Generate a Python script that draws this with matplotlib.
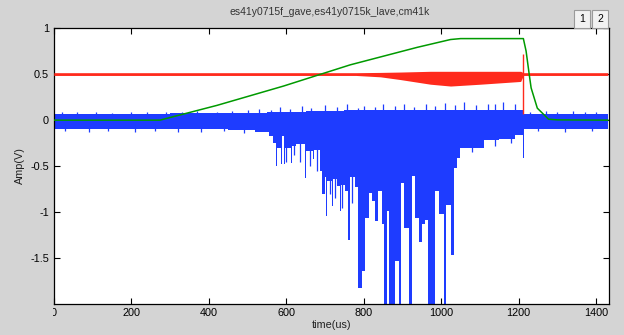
import numpy as np
import matplotlib
matplotlib.use("Agg")
import matplotlib.pyplot as plt
from matplotlib.patches import Rectangle
from matplotlib.transforms import Bbox

plt.rcParams['font.family'] = ['Liberation Sans', 'DejaVu Sans']

# ---- traces (time in us, amplitude in V) ----
# gate envelope (green)
gate_t = [0, 274, 421, 593, 765, 938, 1024, 1050, 1212, 1219, 1227, 1232, 1248, 1277, 1300, 1430]
gate_v = [0, 0, 0.16, 0.37, 0.60, 0.79, 0.875, 0.885, 0.885, 0.75, 0.50, 0.35, 0.13, 0.01, 0.003, 0.0]

# reference trace (red): band edges
ref_t = [0, 780, 843, 895, 972, 1024, 1101, 1205, 1212, 1430]
ref_lo = [0.485, 0.485, 0.47, 0.44, 0.39, 0.37, 0.39, 0.42, 0.485, 0.485]
ref_hi = [0.515, 0.515, 0.518, 0.522, 0.53, 0.53, 0.53, 0.53, 0.515, 0.515]
ref_step_t = 1212
ref_step_lo = 0.07
ref_step_hi = 0.72

# acoustic trace (blue): lower envelope, constant from each time to the next
sig_lo_t = [0, 450, 520, 555, 565, 574, 577, 586, 589, 595, 598, 612, 615, 626,
            648, 651, 668, 671, 686, 692, 700, 703, 706, 718, 721, 730, 738, 741, 752,
            760, 764, 778, 786, 795, 804, 813, 821, 830, 838, 847, 853, 860, 864,
            881, 890, 896, 903, 916, 924, 933, 942, 950, 959, 967, 985, 993, 1006,
            1013, 1024, 1032, 1041, 1049, 1110, 1150, 1190, 1210, 1214, 1430]
sig_lo_v = [-0.10, -0.11, -0.13, -0.17, -0.25, -0.50, -0.30, -0.48, -0.17, -0.48, -0.30, -0.46, -0.28, -0.26,
            -0.63, -0.33, -0.42, -0.32, -0.55, -0.80, -0.62, -1.04, -0.66, -0.93, -0.64, -0.72, -0.99, -0.70, -0.77,
            -1.30, -0.62, -0.73, -1.82, -1.64, -1.06, -0.79, -0.88, -1.10, -0.77, -1.13, -2.05, -0.99, -2.05,
            -1.53, -2.05, -0.68, -1.17, -2.05, -0.61, -1.06, -1.32, -1.13, -1.08, -2.05, -0.77, -1.02, -2.05,
            -0.92, -1.46, -0.52, -0.41, -0.30, -0.22, -0.20, -0.16, -0.41, -0.10, -0.10]

# upper envelope
sig_hi_t = [0, 300, 450, 550, 650, 750, 1000, 1212, 1430]
sig_hi_v = [0.07, 0.075, 0.08, 0.09, 0.10, 0.11, 0.11, 0.065, 0.065]

# isolated positive peaks
up_peak_t = [20, 60, 110, 150, 200, 240, 290, 330, 370, 420, 460, 500, 530, 560, 585, 610,
             640, 665, 700, 730, 757, 785, 800, 830, 850, 880, 905, 930, 960, 985, 1010,
             1035, 1060, 1090, 1120, 1140, 1160, 1190, 1230, 1270, 1300, 1340, 1370, 1400]
up_peak_v = [0.09, 0.085, 0.09, 0.08, 0.085, 0.09, 0.085, 0.09, 0.10, 0.09, 0.10, 0.11, 0.12, 0.11, 0.14, 0.12,
             0.15, 0.13, 0.16, 0.14, 0.17, 0.13, 0.15, 0.14, 0.17, 0.15, 0.18, 0.14, 0.17, 0.15, 0.19,
             0.16, 0.20, 0.16, 0.18, 0.17, 0.20, 0.17, 0.09, 0.10, 0.09, 0.10, 0.085, 0.09]

# isolated negative peaks
dn_peak_t = [30, 90, 140, 210, 260, 320, 380, 440, 490, 600, 620, 635, 660, 680, 712, 726,
             745, 770, 1080, 1140, 1180, 1250, 1320, 1390]
dn_peak_v = [-0.12, -0.13, -0.12, -0.13, -0.12, -0.13, -0.13, -0.12, -0.14, -0.45, -0.38, -0.45,
             -0.50, -0.55, -0.80, -0.85, -0.95, -0.90, -0.35, -0.28, -0.25, -0.12, -0.13, -0.12]

x_ticks = [0, 200, 400, 600, 800, 1000, 1200, 1400]
y_ticks = [-1.5, -1, -0.5, 0, 0.5, 1]
y_tick_labels = ['-1.5', '-1', '-0.5', '0', '0.5', '1']

BLUE = '#1e3cff'
RED = '#ff2a1c'
GREEN = '#009a00'
BG = '#d4d4d4'

W, H = 624, 335
fig = plt.figure(figsize=(W / 100, H / 100), dpi=100, facecolor=BG)
ax = fig.add_axes([53.8 / W, 1 - 303.5 / H, (608.6 - 53.8) / W, (303.5 - 28) / H])
ax.set_facecolor('white')


def step_eval(t_src, v_src, t):
    idx = np.searchsorted(np.asarray(t_src), t, side='right') - 1
    return np.asarray(v_src)[np.clip(idx, 0, len(v_src) - 1)]


grid = np.union1d(sig_lo_t, sig_hi_t)
lo = step_eval(sig_lo_t, sig_lo_v, grid)
hi = step_eval(sig_hi_t, sig_hi_v, grid)
ax.fill_between(grid, lo, hi, step='post', color=BLUE, linewidth=0, zorder=2)
ax.vlines(up_peak_t, 0, up_peak_v, color=BLUE, linewidth=0.9, zorder=2)
ax.vlines(dn_peak_t, dn_peak_v, 0, color=BLUE, linewidth=0.9, zorder=2)

ax.fill_between(ref_t, ref_lo, ref_hi, color=RED, linewidth=0, zorder=3)
ax.vlines([ref_step_t], ref_step_lo, ref_step_hi, color=RED, linewidth=1.0, zorder=3)

ax.plot(gate_t, gate_v, color=GREEN, linewidth=1.1, zorder=4)

ax.set_xlim(0, 1432)
ax.set_ylim(-1.99, 1)
ax.set_xticks(x_ticks)
ax.set_yticks(y_ticks)
ax.set_yticklabels(y_tick_labels)
ax.tick_params(direction='in', length=4.5, width=0.8, labelsize=7.8,
               top=True, right=True, pad=3.5, colors='black')
for s in ax.spines.values():
    s.set_linewidth(0.9)

clip = Bbox.from_extents(53, 0, 608, H)
for lbl in ax.get_xticklabels():
    lbl.set_clip_box(clip)
    lbl.set_clip_on(True)

ax.set_xlabel('time(us)', fontsize=7.8, labelpad=1.5, color='#222222')
ax.set_ylabel('Amp(V)', fontsize=7.8, labelpad=4, color='#222222')

fig.text(330 / W, 1 - 12 / H, 'es41y0715f_gave,es41y0715k_lave,cm41k',
         ha='center', va='center', fontsize=7.5, color='#333333')

for x0, lab in [(574, '1'), (592, '2')]:
    fig.add_artist(Rectangle((x0 / W, 1 - 28 / H), 16 / W, 18 / H,
                             transform=fig.transFigure, facecolor='#f2f2f2',
                             edgecolor='#9a9a9a', linewidth=0.8))
    fig.text((x0 + 8) / W, 1 - 19 / H, lab, ha='center', va='center',
             fontsize=7.5, color='black')

fig.savefig('out.png', dpi=100, facecolor=BG)
